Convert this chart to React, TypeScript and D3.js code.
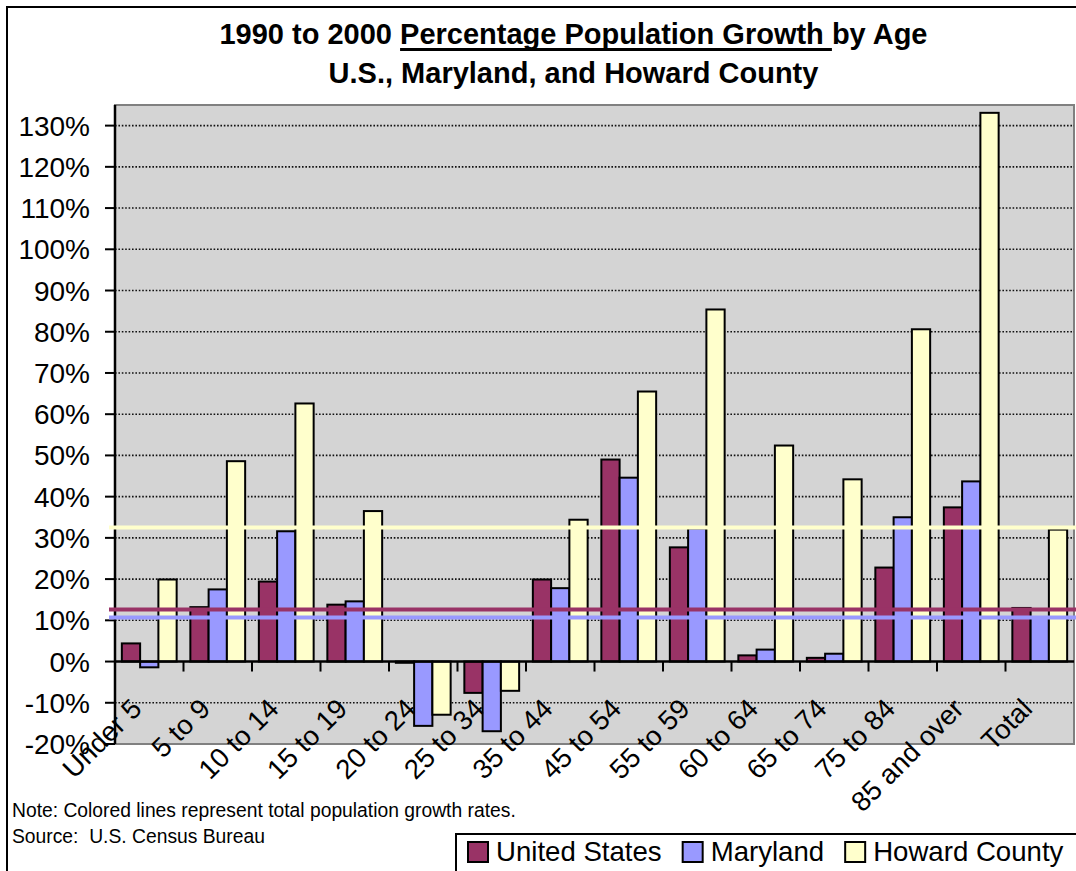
import * as d3 from "d3";
import React, { useRef, useEffect } from "react";

const categories = [
  "Under 5", "5 to 9", "10 to 14", "15 to 19", "20 to 24", "25 to 34", "35 to 44",
  "45 to 54", "55 to 59", "60 to 64", "65 to 74", "75 to 84", "85 and over", "Total",
];
const seriesNames = ["United States", "Maryland", "Howard County"];
const usValues = [0.044, 0.132, 0.194, 0.138, -0.003, -0.076, 0.199, 0.49, 0.277, 0.015, 0.009, 0.228, 0.374, 0.13];
const mdValues = [-0.014, 0.175, 0.316, 0.146, -0.156, -0.169, 0.178, 0.446, 0.323, 0.029, 0.019, 0.35, 0.437, 0.108];
const hcValues = [0.199, 0.486, 0.626, 0.365, -0.129, -0.071, 0.344, 0.655, 0.854, 0.524, 0.442, 0.806, 1.331, 0.32];
// total growth rates drawn as coloured lines across the plot
const totalLines = [0.126, 0.107, 0.325];
const yTicks = [-0.2, -0.1, 0, 0.1, 0.2, 0.3, 0.4, 0.5, 0.6, 0.7, 0.8, 0.9, 1.0, 1.1, 1.2, 1.3];
const colors = ["#993366", "#9999FF", "#FFFFCC"];

const App = () => {
  const svgRef = useRef<SVGSVGElement | null>(null);

  useEffect(() => {
    const width = 1076;
    const height = 871;
    const font = "'Liberation Sans', Arial, sans-serif";
    const plotLeft = 115;
    const plotRight = 1074;
    const plotTop = 105;
    const plotBottom = 744;

    const svg = d3.select(svgRef.current);
    svg.selectAll("*").remove();
    svg.attr("width", width).attr("height", height).attr("font-family", font);

    const seriesValues = [usValues, mdValues, hcValues];

    // scales
    const x0 = d3.scaleBand().domain(categories).range([plotLeft, plotRight]).padding(0);
    const x1 = d3.scaleBand().domain(seriesNames).range([0, x0.bandwidth()])
      .paddingInner(0).paddingOuter(0.375);
    const y = d3.scaleLinear().domain([-0.2, 1.35]).range([plotBottom, plotTop]);

    // chart frame
    svg.append("rect").attr("width", width).attr("height", height).attr("fill", "#fff");
    svg.append("rect")
      .attr("x", 7).attr("y", 7).attr("width", 1200).attr("height", 1000)
      .attr("fill", "none").attr("stroke", "#000").attr("stroke-width", 2);

    // plot area
    svg.append("rect")
      .attr("x", plotLeft).attr("y", plotTop)
      .attr("width", plotRight - plotLeft).attr("height", plotBottom - plotTop)
      .attr("fill", "#d4d4d4").attr("stroke", "#808080").attr("stroke-width", 2);

    // gridlines
    svg.append("g")
      .selectAll("line")
      .data(yTicks.filter(d => d !== 0 && d !== -0.2))
      .join("line")
      .attr("x1", plotLeft).attr("x2", plotRight)
      .attr("y1", d => y(d)).attr("y2", d => y(d))
      .attr("stroke", "#111").attr("stroke-width", 1.6).attr("stroke-dasharray", "1.6 1.8");

    // bars
    const groups = svg.append("g")
      .selectAll("g")
      .data(categories)
      .join("g")
      .attr("transform", d => `translate(${x0(d)},0)`);

    groups.selectAll("rect")
      .data((d, i) => seriesNames.map((s, j) => ({ s, j, v: seriesValues[j][i] })))
      .join("rect")
      .attr("x", d => x1(d.s)!)
      .attr("width", x1.bandwidth())
      .attr("y", d => y(Math.max(0, d.v)))
      .attr("height", d => Math.abs(y(d.v) - y(0)))
      .attr("fill", d => colors[d.j])
      .attr("stroke", "#000").attr("stroke-width", 2);

    // axes
    svg.append("line")
      .attr("x1", plotLeft).attr("x2", plotRight)
      .attr("y1", y(0)).attr("y2", y(0))
      .attr("stroke", "#000").attr("stroke-width", 2.5);
    svg.append("line")
      .attr("x1", plotLeft).attr("x2", plotLeft)
      .attr("y1", plotTop).attr("y2", plotBottom)
      .attr("stroke", "#000").attr("stroke-width", 2.5);

    // y ticks and labels
    svg.append("g")
      .selectAll("line")
      .data(yTicks)
      .join("line")
      .attr("x1", plotLeft - 10).attr("x2", plotLeft)
      .attr("y1", d => y(d)).attr("y2", d => y(d))
      .attr("stroke", "#000").attr("stroke-width", 2);

    svg.append("g")
      .selectAll("text")
      .data(yTicks)
      .join("text")
      .attr("x", 90)
      .attr("y", d => y(d))
      .attr("dy", "0.36em")
      .attr("text-anchor", "end")
      .attr("font-size", 28)
      .text(d => `${Math.round(d * 100)}%`);

    // x ticks between categories
    svg.append("g")
      .selectAll("line")
      .data(categories.slice(1))
      .join("line")
      .attr("x1", d => x0(d)!).attr("x2", d => x0(d)!)
      .attr("y1", y(0)).attr("y2", y(0) + 10)
      .attr("stroke", "#000").attr("stroke-width", 2);

    // rotated category labels
    svg.append("g")
      .selectAll("text")
      .data(categories)
      .join("text")
      .attr("text-anchor", "end")
      .attr("font-size", 27.5)
      .attr("transform", d => `translate(${x0(d)! + x0.bandwidth() / 2 - 6},${y(0) + 49}) rotate(-45)`)
      .text(d => d);

    // total growth lines
    svg.append("g")
      .selectAll("line")
      .data(totalLines)
      .join("line")
      .attr("x1", 109).attr("x2", width)
      .attr("y1", d => y(d)).attr("y2", d => y(d))
      .attr("stroke", (d, i) => colors[i]).attr("stroke-width", 4);

    // title
    const part1 = "1990 to 2000 ";
    const part2 = "Percentage Population Growth ";
    const part3 = "by Age";
    const title = svg.append("text")
      .attr("y", 44)
      .attr("font-size", 29)
      .attr("font-weight", "bold")
      .style("white-space", "pre");
    title.append("tspan").text(part1);
    title.append("tspan").text(part2);
    title.append("tspan").text(part3);
    const tNode = title.node() as SVGTextElement;
    const tLen = tNode.getComputedTextLength();
    title.attr("x", 573.5 - tLen / 2);
    const ulStart = tNode.getStartPositionOfChar(part1.length).x;
    const ulLen = tNode.getSubStringLength(part1.length, part2.length);
    svg.append("rect")
      .attr("x", ulStart).attr("y", 48)
      .attr("width", ulLen).attr("height", 3)
      .attr("fill", "#000");

    svg.append("text")
      .attr("x", 573.5).attr("y", 83)
      .attr("text-anchor", "middle")
      .attr("font-size", 29)
      .attr("font-weight", "bold")
      .text("U.S., Maryland, and Howard County");

    // notes
    svg.append("text")
      .attr("x", 12).attr("y", 817)
      .attr("font-size", 19.3)
      .text("Note: Colored lines represent total population growth rates.");
    svg.append("text")
      .attr("x", 12).attr("y", 843)
      .attr("font-size", 19.3)
      .style("white-space", "pre")
      .text("Source:  U.S. Census Bureau");

    // legend
    svg.append("rect")
      .attr("x", 456).attr("y", 834).attr("width", 700).attr("height", 100)
      .attr("fill", "#fff").attr("stroke", "#000").attr("stroke-width", 2);

    let lx = 468;
    seriesNames.forEach((name, i) => {
      svg.append("rect")
        .attr("x", lx).attr("y", 842).attr("width", 20).attr("height", 20)
        .attr("fill", colors[i]).attr("stroke", "#000").attr("stroke-width", 2);
      const t = svg.append("text")
        .attr("x", lx + 28).attr("y", 861)
        .attr("font-size", 27.6)
        .text(name);
      lx += 28 + (t.node() as SVGTextElement).getComputedTextLength() + 21;
    });
  }, []);

  return (
    <svg ref={svgRef} style={{ position: "absolute", left: 0, top: 0, display: "block" }} />
  );
};

export default App;
